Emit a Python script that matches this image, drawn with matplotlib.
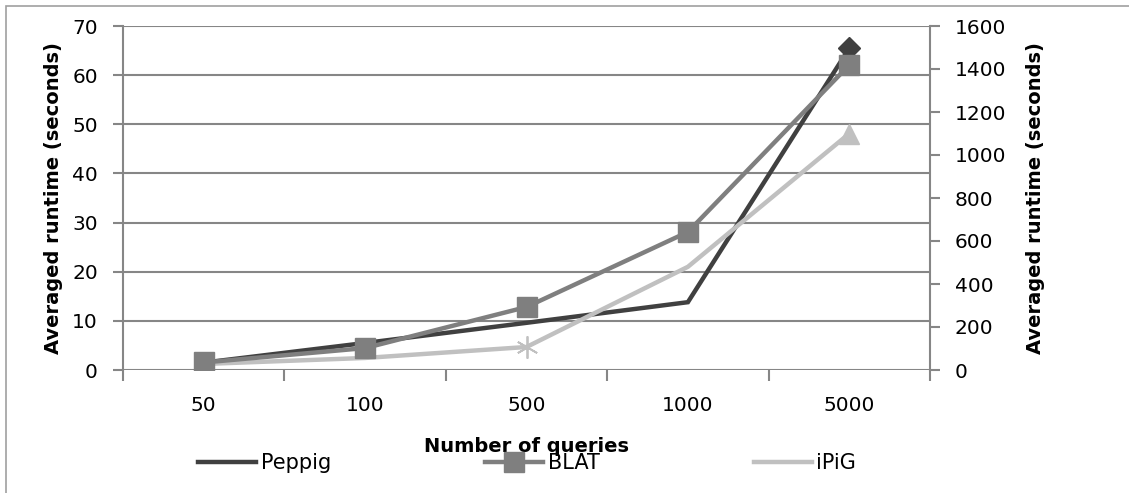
import matplotlib
matplotlib.use('Agg')
import matplotlib.pyplot as plt
from matplotlib.patches import Rectangle

plt.rcParams['font.family'] = ['DejaVu Sans']

# runtime per query-set size
queries = ["50", "100", "500", "1000", "5000"]
peppig = [1.5, 5.5, 9.6, 13.8, 65.5]          # left axis (seconds)
blat = [35, 102, 293, 642, 1419]              # right axis (seconds)
ipig = [28, 56, 107, 480, 1100]               # right axis (seconds)

c_pep = "#404040"
c_blat = "#7f7f7f"
c_ipig = "#c0c0c0"
c_grid = "#868686"

W, H = 1129, 493
fig = plt.figure(figsize=(W / 100, H / 100), dpi=100)
fig.patches.append(Rectangle((6 / W, -0.1), 1.2, 1 - 6 / H + 0.1, transform=fig.transFigure,
                             fill=False, edgecolor="#a0a0a0", linewidth=1.2))

ax = fig.add_axes([123 / W, 1 - 370 / H, (930 - 123) / W, (370 - 26) / H])
ax2 = ax.twinx()
ax.set_zorder(ax2.get_zorder() - 1)
ax2.patch.set_visible(False)

x = list(range(len(queries)))

ax.plot(x, peppig, color=c_pep, lw=3.2, solid_joinstyle='miter', zorder=3)
ax.plot(x[4], peppig[4], marker='D', ms=11, color=c_pep, zorder=4)

ax2.plot(x, blat, color=c_blat, lw=3.2, marker='s', ms=14, zorder=3)
ax2.plot(x, ipig, color=c_ipig, lw=3.2, zorder=2)
ax2.plot(x[2], ipig[2], marker=(6, 2, 0), ms=16, mew=1.3, color=c_ipig, zorder=2)
ax2.plot(x[4], ipig[4], marker='^', ms=15, color=c_ipig, zorder=2)

ax.set_xlim(-0.5, 4.5)
ax.set_ylim(0, 70)
ax2.set_ylim(0, 1600)
ax.set_yticks(range(0, 71, 10))
ax2.set_yticks(range(0, 1601, 200))
ax.set_xticks([i - 0.5 for i in range(6)])
ax.set_xticklabels([])
ax.set_xticks(x, queries, minor=True)

ax.yaxis.grid(True, color=c_grid, lw=1.5)
ax.set_axisbelow(True)

for a in (ax, ax2):
    for s in ('top', 'bottom'):
        a.spines[s].set_visible(False)
ax.spines['right'].set_visible(False)
ax2.spines['left'].set_visible(False)
ax.spines['left'].set_color(c_grid)
ax.spines['left'].set_linewidth(1.5)
ax2.spines['right'].set_color(c_grid)
ax2.spines['right'].set_linewidth(1.5)

ax.tick_params(axis='y', direction='out', length=7, width=1.5, color=c_grid, labelsize=14.5, pad=11)
ax2.tick_params(axis='y', direction='out', length=7, width=1.5, color=c_grid, labelsize=14.5, pad=11)
ax.tick_params(axis='x', which='major', direction='out', length=8, width=1.5, color=c_grid)
ax.tick_params(axis='x', which='minor', length=0, labelsize=14.5, pad=19)

ax.set_ylabel("Averaged runtime (seconds)", fontsize=14, fontweight='bold', labelpad=7)
ax2.set_ylabel("Averaged runtime (seconds)", fontsize=14, fontweight='bold', labelpad=14)

fig.text(527 / W, 1 - 446 / H, "Number of queries", fontsize=14, fontweight='bold',
         ha='center', va='center')

h1, = ax.plot([], [], color=c_pep, lw=3.2)
h2, = ax.plot([], [], color=c_blat, lw=3.2, marker='s', ms=14)
h3, = ax.plot([], [], color=c_ipig, lw=3.2)
fig.legend([h1, h2, h3], ["Peppig", "BLAT", "iPiG"], loc='center', ncol=3,
           bbox_to_anchor=(527 / W, 1 - 463 / H), frameon=False, fontsize=15,
           handlelength=2.8, handletextpad=0.2, columnspacing=7.4)

fig.savefig("out.png", dpi=100)
